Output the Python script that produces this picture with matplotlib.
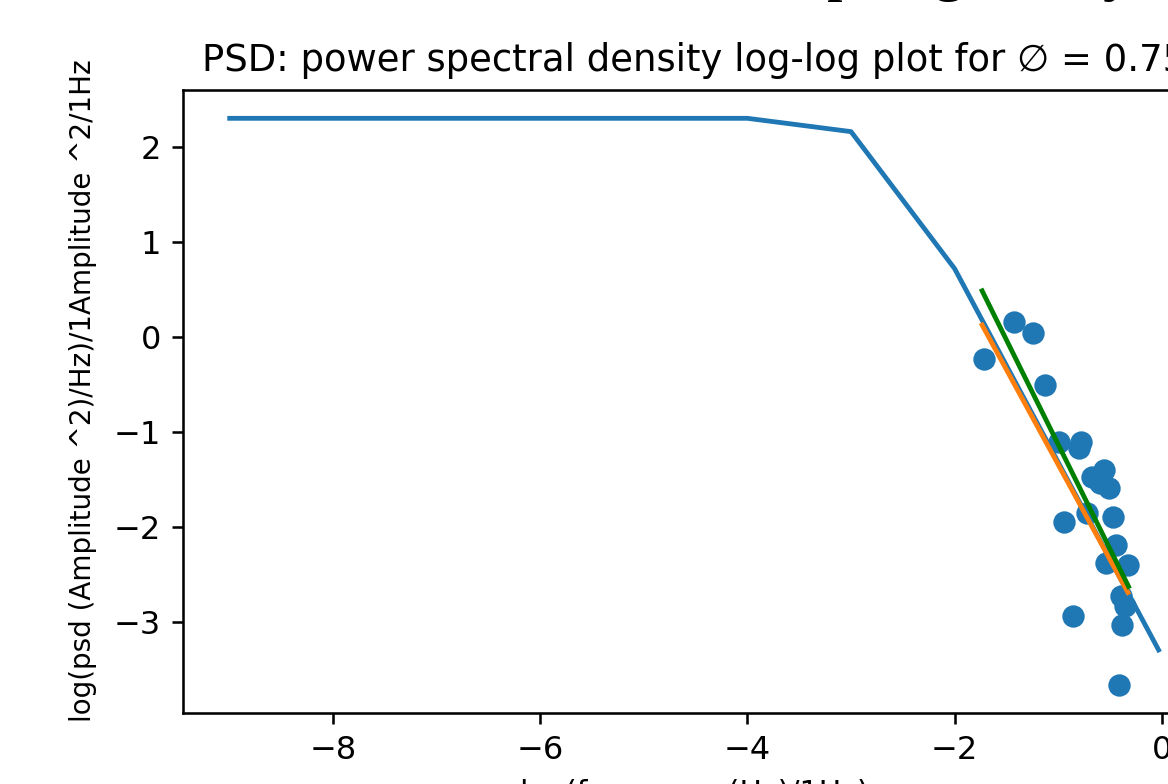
import matplotlib
matplotlib.use("Agg")
import matplotlib.pyplot as plt

# model PSD curve (log10 f, log10 psd)
curve_logf = [-9.0, -4.0, -3.0, -2.0, -0.03]
curve_logpsd = [2.30, 2.30, 2.16, 0.72, -3.29]

# measured points
pts_logf = [-1.422, -1.242, -1.718, -1.123, -0.995, -0.779, -0.802, -0.673,
            -0.561, -0.593, -0.506, -0.721, -0.474, -0.947, -0.442, -0.538,
            -0.326, -0.391, -0.352, -0.384, -0.860, -0.417]
pts_logpsd = [0.161, 0.039, -0.234, -0.504, -1.100, -1.100, -1.169, -1.468,
              -1.397, -1.537, -1.589, -1.852, -1.888, -1.940, -2.185, -2.371,
              -2.395, -2.728, -2.833, -3.025, -2.938, -3.655]

# linear fits
fit1_x = [-1.734, -0.326]
fit1_y = [0.126, -2.686]
fit2_x = [-1.734, -0.320]
fit2_y = [0.486, -2.623]

dpi = 230
fig = plt.figure(figsize=(1168 / dpi, 784 / dpi), dpi=dpi)
ax = fig.add_axes([0.1569, 0.0906, 0.8748, 0.7946])

ax.plot(curve_logf, curve_logpsd)
ax.scatter(pts_logf, pts_logpsd)
ax.plot(fit1_x, fit1_y)
ax.plot(fit2_x, fit2_y, color="g")

ax.set_title("PSD: power spectral density log-log plot for \u2205 = 0.75", fontsize=11.6)
ax.set_xlabel("log(frequency(Hz)/1Hz)", fontsize=9.4)
ax.set_ylabel("log(psd (Amplitude ^2)/Hz)/1Amplitude ^2/1Hz", fontsize=8.7)
ax.yaxis.set_label_coords(-0.084, 0.518)

# descenders of the page heading above the figure
for ch, xp in [("p", 843), ("g", 948), ("y", 1118)]:
    fig.text(xp / 1168, 1 + 12 / 784, ch, ha="center", va="baseline",
             family="Liberation Serif", fontsize=20)

fig.savefig("out.png", dpi=dpi)
